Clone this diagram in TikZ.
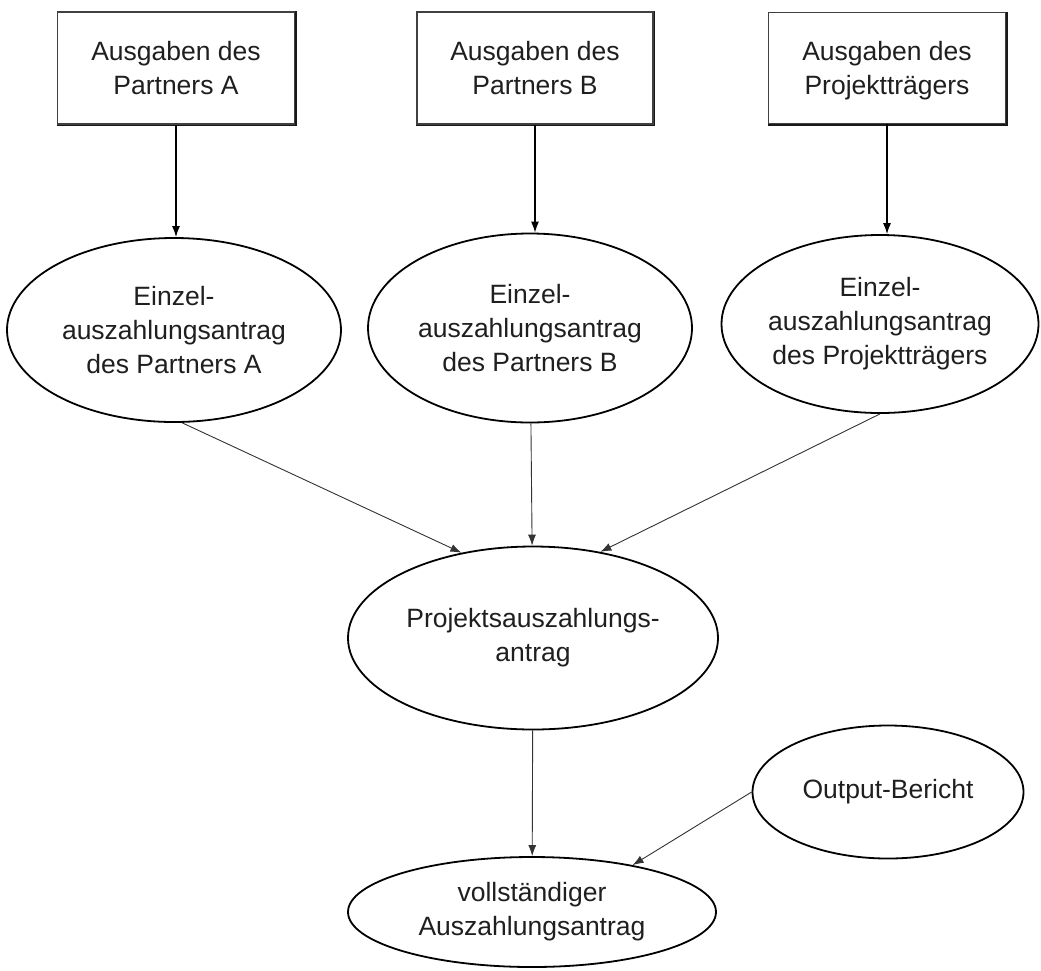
\documentclass[tikz,border=0pt]{standalone}
\usepackage{fontspec}
\setmainfont{Liberation Sans}
\usetikzlibrary{shapes.geometric,arrows.meta}
\begin{document}
\begin{tikzpicture}[x=1pt,y=-1pt,
  txt/.style={font=\fontsize{26.5}{34}\selectfont, align=center, text=black!88},
  boxnode/.style={txt, draw=black!75, line width=1.5pt, rectangle, inner sep=0pt},
  boxshade/.style={line width=1.4pt, draw=black!90},
  ellnode/.style={txt, draw, line width=1.8pt, ellipse, inner sep=0pt},
  arr/.style={-{Latex[length=11pt,width=8pt]}, line width=1.3pt},
  thinarr/.style={-{Latex[length=11pt,width=8pt]}, line width=0.9pt, draw=black!80},
]
\useasboundingbox[fill=white] (0,0) rectangle (1041,970);
% boxes
\node[boxnode, minimum width=237pt, minimum height=112pt] (boxA) at (176,68) {Ausgaben des\\Partners A};
\node[boxnode, minimum width=236pt, minimum height=112pt] (boxB) at (535,68) {Ausgaben des\\Partners B};
\node[boxnode, minimum width=237pt, minimum height=111pt] (boxP) at (887,68) {Ausgaben des\\\smash{Projektträgers}};
\foreach \b in {boxA,boxB,boxP}{
  \draw[boxshade] ([yshift=-0.8pt]\b.south west) -- ([xshift=0.8pt,yshift=-0.8pt]\b.south east) -- ([xshift=0.8pt]\b.north east);
}
% ellipses
\node[ellnode, minimum width=334pt, minimum height=184pt] (ellA) at (174,330) {Einzel-\\auszahlungsantrag\\des Partners A};
\node[ellnode, minimum width=324pt, minimum height=189pt] (ellB) at (530,328) {Einzel-\\auszahlungsantrag\\des Partners B};
\node[ellnode, minimum width=317pt, minimum height=178pt] (ellP) at (880,324) {Einzel-\\auszahlungsantrag\\des Projektträgers};
\node[ellnode, minimum width=370pt, minimum height=183pt] (proj) at (533,638) {Projektsauszahlungs-\\antrag};
\node[ellnode, minimum width=271pt, minimum height=133pt] (out) at (888,792) {Output-Bericht};
\node[ellnode, minimum width=368pt, minimum height=110pt] (voll) at (532,912) {vollständiger\\Auszahlungsantrag};
% connectors
\draw[arr] (boxA.south) -- (boxA.south |- ellA.north);
\draw[arr] (boxB.south) -- (boxB.south |- ellB.north);
\draw[arr] (boxP.south) -- (boxP.south |- ellP.north);
\draw[thinarr] (ellA.-85) -- (proj.130);
\draw[thinarr] (ellB) -- (proj);
\draw[thinarr] (ellP.south) -- (proj.52);
\draw[thinarr] (proj) -- (voll);
\draw[thinarr] (out.west) -- (voll.25);
\end{tikzpicture}
\end{document}
